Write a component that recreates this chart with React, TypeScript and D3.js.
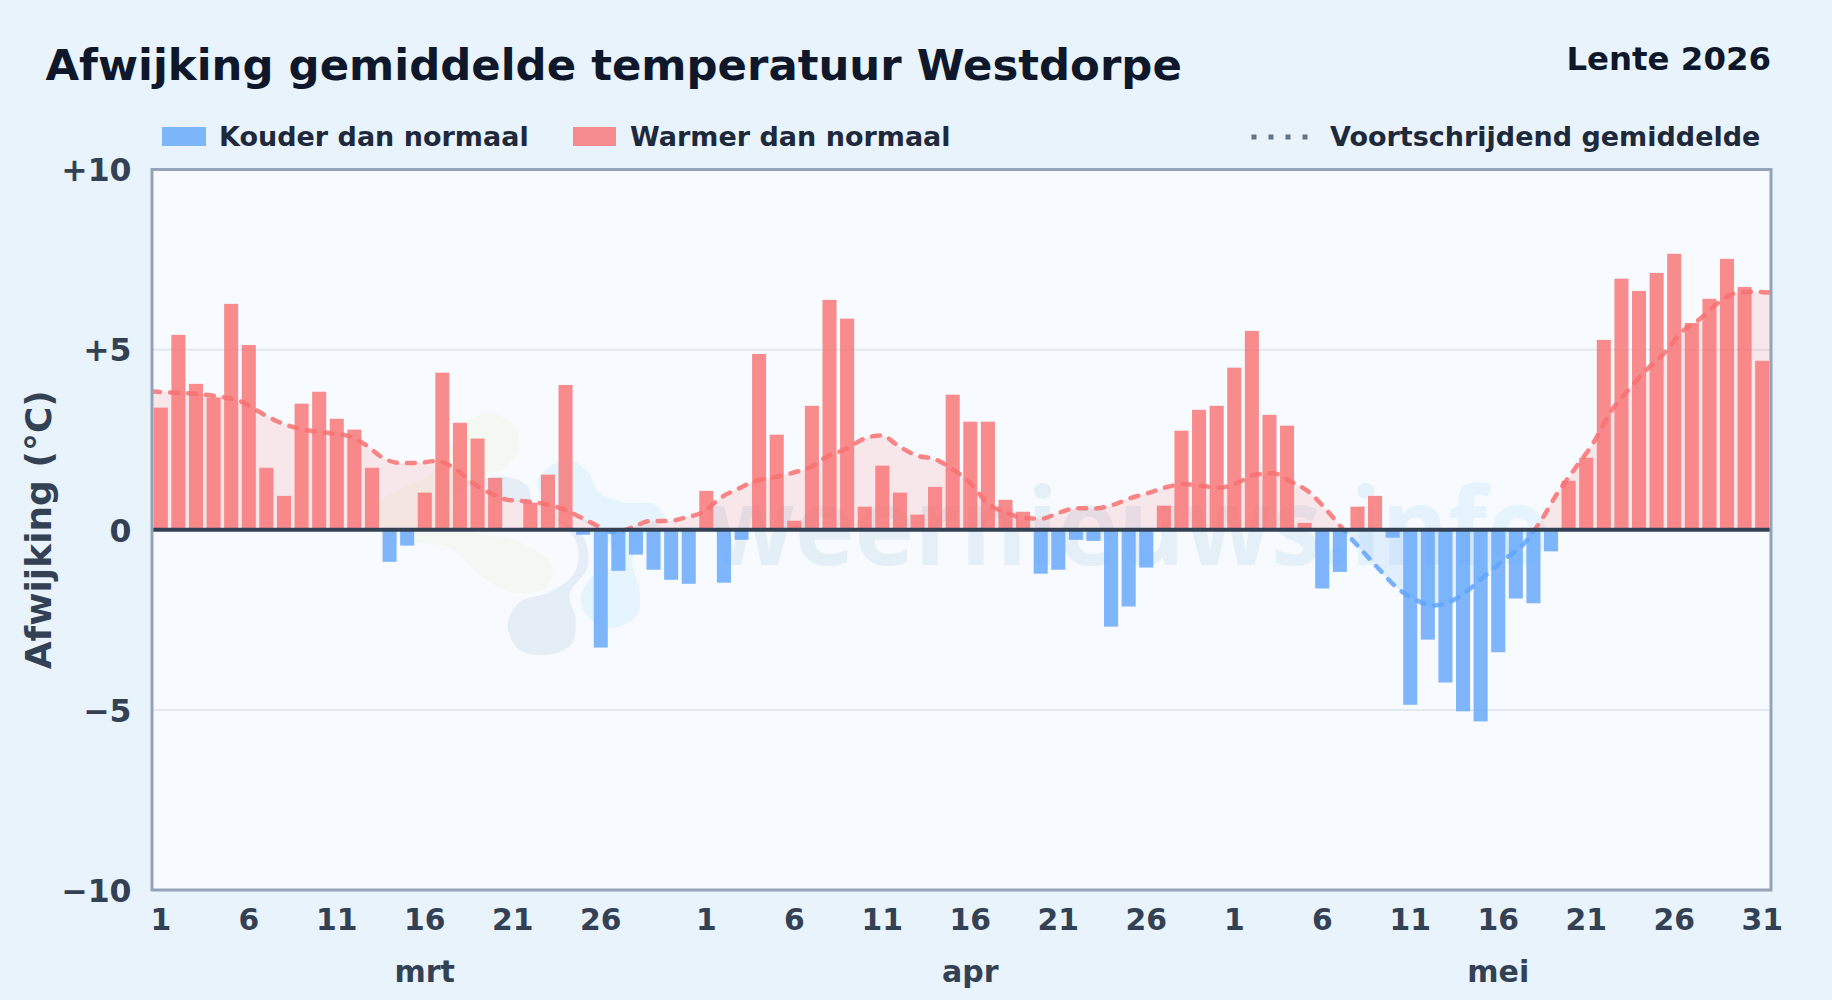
import * as d3 from "d3";
import { useEffect, useRef } from "react";

const TITLE = "Afwijking gemiddelde temperatuur Westdorpe";
const SEASON = "Lente 2026";
const Y_LABEL = "Afwijking (°C)";
const COLD_LABEL = "Kouder dan normaal";
const WARM_LABEL = "Warmer dan normaal";
const AVG_LABEL = "Voortschrijdend gemiddelde";

const months = ["mrt", "apr", "mei"];

// daily anomaly per month
const marchValues = [
  3.39, 5.41, 4.05, 3.67, 6.27, 5.13, 1.72, 0.94, 3.5, 3.83, 3.08, 2.78, 1.72, -0.89, -0.44, 1.03,
  4.36, 2.97, 2.53, 1.44, 0, 0.75, 1.53, 4.02, -0.14, -3.27, -1.14, -0.69, -1.11, -1.39, -1.5,
];
const aprilValues = [
  1.08, -1.47, -0.28, 4.88, 2.64, 0.25, 3.44, 6.38, 5.86, 0.64, 1.78, 1.03, 0.42, 1.19, 3.75, 3.0,
  3.0, 0.83, 0.5, -1.22, -1.11, -0.28, -0.31, -2.69, -2.13, -1.05, 0.67, 2.75, 3.33, 3.44,
];
const mayValues = [
  4.5, 5.52, 3.19, 2.89, 0.19, -1.63, -1.17, 0.64, 0.94, -0.22, -4.86, -3.05, -4.24, -5.04, -5.32,
  -3.4, -1.91, -2.04, -0.6, 1.36, 2.0, 5.27, 6.97, 6.63, 7.13, 7.66, 5.74, 6.41, 7.52, 6.74, 4.69,
];

// moving average per month
const marchAvg = [
  3.84, 3.81, 3.79, 3.75, 3.68, 3.56, 3.28, 3.02, 2.84, 2.74, 2.68, 2.61, 2.36, 1.99, 1.85, 1.86,
  1.91, 1.71, 1.31, 1.02, 0.83, 0.79, 0.72, 0.59, 0.37, 0.12, -0.08, 0.07, 0.24, 0.24, 0.34,
];
const aprilAvg = [
  0.5, 0.9, 1.15, 1.37, 1.46, 1.58, 1.74, 2.05, 2.24, 2.52, 2.62, 2.31, 2.06, 1.96, 1.68, 1.3,
  0.72, 0.48, 0.33, 0.31, 0.48, 0.6, 0.59, 0.69, 0.88, 1.02, 1.18, 1.27, 1.22, 1.17,
];
const mayAvg = [
  1.3, 1.53, 1.57, 1.34, 1.06, 0.56, -0.02, -0.57, -1.11, -1.62, -1.94, -2.1, -1.99, -1.67, -1.25,
  -0.83, -0.45, 0.2, 1.02, 1.71, 2.4, 3.28, 3.89, 4.44, 4.9, 5.5, 5.85, 6.29, 6.57, 6.61, 6.58,
];

const yTicks = [10, 5, 0, -5, -10];
const yTickLabels = ["+10", "+5", "0", "−5", "−10"];
const gridValues = [5, -5];

const FONT = "'DejaVu Sans', sans-serif";
const WARM = "#f87171";
const COLD = "#60a5fa";

// background logo of the watermark, as rough closed outlines
const blobGreen: [number, number][] = [
  [490, 413], [516, 428], [516, 455], [490, 478], [465, 487], [452, 505], [470, 530],
  [515, 540], [552, 565], [545, 590], [510, 592], [480, 575], [450, 548], [415, 542],
  [385, 530], [378, 505], [400, 490], [430, 475], [448, 450], [462, 425],
];
const blobSlate: [number, number][] = [
  [505, 474], [530, 485], [536, 510], [560, 525], [575, 545], [572, 572], [548, 590],
  [518, 600], [505, 625], [518, 652], [550, 657], [574, 645], [578, 618], [572, 595],
  [590, 568], [585, 535], [555, 515], [520, 505], [490, 495], [480, 480],
];
const blobLight: [number, number][] = [
  [565, 457], [590, 470], [600, 490], [625, 500], [655, 502], [668, 520], [650, 535],
  [635, 560], [642, 590], [640, 615], [615, 630], [590, 622], [578, 600], [590, 575],
  [610, 565], [605, 540], [575, 520], [545, 505], [535, 480],
];

export default function App() {
  const svgRef = useRef<SVGSVGElement | null>(null);

  useEffect(() => {
    const width = 1832;
    const height = 1000;
    const margin = { top: 169.5, right: 61, bottom: 110, left: 152 };
    const right = width - margin.right;
    const bottom = height - margin.bottom;

    const values = [...marchValues, ...aprilValues, ...mayValues];
    const avg = [...marchAvg, ...aprilAvg, ...mayAvg];
    const monthLengths = [marchValues.length, aprilValues.length, mayValues.length];
    const dayLabels = monthLengths.flatMap((n) => d3.range(1, n + 1));
    const days = d3.range(values.length);

    const svg = d3.select(svgRef.current);
    svg.selectAll("*").remove();
    svg.attr("width", width).attr("height", height);

    const x = d3
      .scaleBand<number>()
      .domain(days)
      .range([margin.left, right])
      .paddingInner(0.2)
      .paddingOuter(0.1);
    const xLine = d3.scalePoint<number>().domain(days).range([margin.left, right]);
    const y = d3.scaleLinear().domain([-10, 10]).range([bottom, margin.top]);

    const defs = svg.append("defs");
    defs
      .append("clipPath")
      .attr("id", "above")
      .append("rect")
      .attr("x", margin.left)
      .attr("y", margin.top)
      .attr("width", right - margin.left)
      .attr("height", y(0) - margin.top);
    defs
      .append("clipPath")
      .attr("id", "below")
      .append("rect")
      .attr("x", margin.left)
      .attr("y", y(0))
      .attr("width", right - margin.left)
      .attr("height", bottom - y(0));
    const wmGrad = defs
      .append("linearGradient")
      .attr("id", "wm")
      .attr("gradientUnits", "userSpaceOnUse")
      .attr("x1", 710)
      .attr("x2", 1550)
      .attr("y1", 0)
      .attr("y2", 0);
    wmGrad.append("stop").attr("offset", "0").attr("stop-color", "#e4eef7");
    wmGrad.append("stop").attr("offset", "0.6").attr("stop-color", "#e4eff8");
    wmGrad.append("stop").attr("offset", "1").attr("stop-color", "#e6f4fe");

    // page and plot background
    svg.append("rect").attr("width", width).attr("height", height).attr("fill", "#e8f3fb");
    svg
      .append("rect")
      .attr("x", margin.left)
      .attr("y", margin.top)
      .attr("width", right - margin.left)
      .attr("height", bottom - margin.top)
      .attr("fill", "#f7fbff");

    // watermark
    const blob = d3.line().curve(d3.curveCatmullRomClosed.alpha(0.5));
    const wm = svg.append("g");
    wm.append("path").attr("d", blob(blobGreen)).attr("fill", "#f3f9f2");
    wm.append("path")
      .attr("d", blob(blobSlate))
      .attr("fill", "#e5eef7")
      .attr("stroke", "#f7fbff")
      .attr("stroke-width", 5);
    wm.append("path")
      .attr("d", blob(blobLight))
      .attr("fill", "#e6f4fe")
      .attr("stroke", "#f7fbff")
      .attr("stroke-width", 5);
    wm.append("text")
      .attr("x", 708)
      .attr("y", 565)
      .attr("font-family", "'Open Sans', sans-serif")
      .attr("font-weight", 700)
      .attr("font-size", 108)
      .attr("textLength", 842)
      .attr("lengthAdjust", "spacingAndGlyphs")
      .attr("fill", "url(#wm)")
      .text("weernieuws.info");

    // grid
    svg
      .append("g")
      .selectAll("line")
      .data(gridValues)
      .join("line")
      .attr("x1", margin.left)
      .attr("x2", right)
      .attr("y1", (d) => y(d))
      .attr("y2", (d) => y(d))
      .attr("stroke", "#e2e8f0")
      .attr("stroke-width", 2);

    // area between moving average and zero
    const area = d3
      .area<number>()
      .x((_, i) => xLine(i) as number)
      .y0(y(0))
      .y1((d) => y(d))
      .curve(d3.curveMonotoneX);
    svg
      .append("path")
      .attr("d", area(avg))
      .attr("clip-path", "url(#above)")
      .attr("fill", WARM)
      .attr("fill-opacity", 0.15);
    svg
      .append("path")
      .attr("d", area(avg))
      .attr("clip-path", "url(#below)")
      .attr("fill", COLD)
      .attr("fill-opacity", 0.15);

    // bars
    svg
      .append("g")
      .selectAll("rect")
      .data(values)
      .join("rect")
      .attr("x", (_, i) => x(i) as number)
      .attr("y", (d) => y(Math.max(d, 0)))
      .attr("width", x.bandwidth())
      .attr("height", (d) => Math.abs(y(d) - y(0)))
      .attr("fill", (d) => (d < 0 ? COLD : WARM))
      .attr("fill-opacity", 0.8);

    // moving average line
    const line = d3
      .line<number>()
      .x((_, i) => xLine(i) as number)
      .y((d) => y(d))
      .curve(d3.curveMonotoneX);
    [
      { clip: "above", color: WARM },
      { clip: "below", color: COLD },
    ].forEach(({ clip, color }) => {
      svg
        .append("path")
        .attr("d", line(avg))
        .attr("clip-path", `url(#${clip})`)
        .attr("fill", "none")
        .attr("stroke", color)
        .attr("stroke-width", 4.5)
        .attr("stroke-opacity", 0.85)
        .attr("stroke-linecap", "round")
        .attr("stroke-dasharray", "8 10");
    });

    // zero line and frame
    svg
      .append("line")
      .attr("x1", margin.left)
      .attr("x2", right)
      .attr("y1", y(0))
      .attr("y2", y(0))
      .attr("stroke", "#334155")
      .attr("stroke-width", 4);
    svg
      .append("rect")
      .attr("x", margin.left)
      .attr("y", margin.top)
      .attr("width", right - margin.left)
      .attr("height", bottom - margin.top)
      .attr("fill", "none")
      .attr("stroke", "#94a3b8")
      .attr("stroke-width", 3);

    // y axis
    const yAxis = svg
      .append("g")
      .attr("transform", `translate(${margin.left}, 0)`)
      .call(
        d3
          .axisLeft(y)
          .tickValues(yTicks)
          .tickSize(0)
          .tickPadding(20.5)
          .tickFormat((_, i) => yTickLabels[i])
      );
    yAxis.select(".domain").remove();
    yAxis
      .selectAll("text")
      .attr("dy", "0.36em")
      .attr("font-family", FONT)
      .attr("font-weight", 700)
      .attr("font-size", 31.5)
      .attr("fill", "#334155");

    // x axis: every fifth day per month, but no 31 at the end of March
    const xAxis = svg
      .append("g")
      .attr("transform", `translate(0, ${bottom})`)
      .call(
        d3
          .axisBottom(x)
          .tickValues(days.filter((i) => dayLabels[i] % 5 === 1 && i !== monthLengths[0] - 1))
          .tickSize(0)
          .tickPadding(19)
          .tickFormat((i) => String(dayLabels[i as number]))
      );
    xAxis.select(".domain").remove();
    xAxis
      .selectAll("text")
      .attr("font-family", FONT)
      .attr("font-weight", 700)
      .attr("font-size", 29.8)
      .attr("fill", "#334155");

    // month names under day 16
    const monthStarts = d3.cumsum([0, ...monthLengths.slice(0, -1)]);
    svg
      .append("g")
      .selectAll("text")
      .data(months)
      .join("text")
      .attr("x", (_, i) => (x(monthStarts[i] + 15) as number) + x.bandwidth() / 2)
      .attr("y", 982)
      .attr("text-anchor", "middle")
      .attr("font-family", FONT)
      .attr("font-weight", 700)
      .attr("font-size", 30)
      .attr("fill", "#334155")
      .text((d) => d);

    // titles
    const label = (
      txt: string,
      px: number,
      py: number,
      size: number,
      fill: string,
      anchor = "start"
    ) =>
      svg
        .append("text")
        .attr("x", px)
        .attr("y", py)
        .attr("text-anchor", anchor)
        .attr("font-family", FONT)
        .attr("font-weight", 700)
        .attr("font-size", size)
        .attr("fill", fill)
        .text(txt);

    label(TITLE, 45.5, 79.5, 43.4, "#0f172a");
    label(SEASON, right, 70, 32.4, "#0f172a", "end");
    label(Y_LABEL, 0, 0, 36, "#334155", "middle").attr(
      "transform",
      `translate(51, ${y(0)}) rotate(-90)`
    );

    // legend
    svg
      .append("rect")
      .attr("x", 162)
      .attr("y", 127)
      .attr("width", 44)
      .attr("height", 19)
      .attr("fill", COLD)
      .attr("fill-opacity", 0.8);
    label(COLD_LABEL, 219, 146, 27, "#1e293b");
    svg
      .append("rect")
      .attr("x", 573)
      .attr("y", 127)
      .attr("width", 43)
      .attr("height", 19)
      .attr("fill", WARM)
      .attr("fill-opacity", 0.8);
    label(WARM_LABEL, 630, 146, 27, "#1e293b");
    svg
      .append("line")
      .attr("x1", 1251.5)
      .attr("x2", 1308)
      .attr("y1", 137)
      .attr("y2", 137)
      .attr("stroke", "#64748b")
      .attr("stroke-width", 5)
      .attr("stroke-dasharray", "5 12");
    label(AVG_LABEL, 1330, 146, 27, "#1e293b");
  }, []);

  return <svg ref={svgRef} style={{ position: "absolute", left: 0, top: 0 }} />;
}
